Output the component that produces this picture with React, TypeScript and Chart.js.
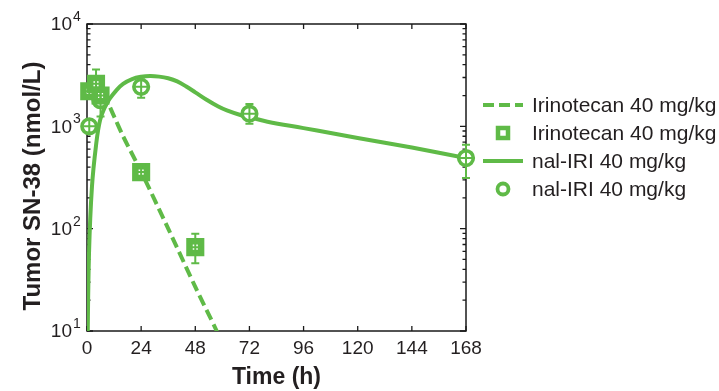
import React, { useEffect, useRef } from 'react';
import { Chart, registerables } from 'chart.js';

Chart.register(...registerables);

// ---------- data ----------
const xTicks = [0, 24, 48, 72, 96, 120, 144, 168];
const yTicks = [10, 100, 1000, 10000];
const yTickExp = ['1', '2', '3', '4'];
const yMinorMult = [2, 3, 4, 5, 6, 7, 8, 9];

// Irinotecan 40 mg/kg model curve (dashed)
const irinoCurveT = [0, 4, 8, 12, 16, 24, 36, 48, 57.5, 62];
const irinoCurveV = [2300, 2250, 1900, 1250, 800, 360, 100, 27, 10, 6];

// nal-IRI 40 mg/kg model curve (solid)
const nalCurveT = [0.2, 0.9, 2.2, 4, 5.8, 8, 10, 13, 16, 20, 24, 28, 32, 36, 40, 44, 48, 53, 58, 62, 68, 72, 80, 96, 108, 120, 144, 168];
const nalCurveV = [6, 58, 257, 650, 1150, 1550, 1850, 2250, 2600, 2900, 3050, 3100, 3060, 2950, 2750, 2450, 2150, 1820, 1570, 1430, 1290, 1230, 1110, 960, 860, 770, 620, 490];

// Irinotecan observed (squares)
const sqT = [1, 4, 6, 24, 48];
const sqV = [2200, 2600, 2000, 357, 66];
const sqLo = [2200, 2000, 2000, 300, 46];
const sqHi = [2200, 3600, 2000, 420, 89];

// nal-IRI observed (circles)
const ciT = [1, 6, 24, 72, 168];
const ciV = [1000, 1800, 2430, 1330, 490];
const ciLo = [870, 1250, 1900, 1060, 313];
const ciHi = [1150, 2200, 3000, 1650, 660];

const legendLabels = ['Irinotecan 40 mg/kg', 'Irinotecan 40 mg/kg', 'nal-IRI 40 mg/kg', 'nal-IRI 40 mg/kg'];

// ---------- style ----------
const GREEN = '#5fba47';
const TEXT = '#231f20';
const FONT = '"Liberation Sans", Arial, Helvetica, sans-serif';
const DASH = [11, 5];

const toXY = (t: number[], v: number[]) => t.map((tt, i) => ({ x: tt, y: v[i] }));

function drawSquare(ctx: CanvasRenderingContext2D, cx: number, cy: number, side: number, bw: number) {
  ctx.save();
  ctx.fillStyle = '#ffffff';
  ctx.strokeStyle = GREEN;
  ctx.lineWidth = bw;
  ctx.setLineDash([]);
  ctx.beginPath();
  ctx.rect(cx - side / 2, cy - side / 2, side, side);
  ctx.fill();
  ctx.stroke();
  ctx.restore();
}

function drawCircle(ctx: CanvasRenderingContext2D, cx: number, cy: number, r: number, bw: number) {
  ctx.save();
  ctx.fillStyle = '#ffffff';
  ctx.strokeStyle = GREEN;
  ctx.lineWidth = bw;
  ctx.setLineDash([]);
  ctx.beginPath();
  ctx.arc(cx, cy, r, 0, Math.PI * 2);
  ctx.fill();
  ctx.stroke();
  ctx.restore();
}

const decorPlugin = {
  id: 'decor',
  beforeDatasetsDraw(chart: any) {
    const { ctx, chartArea: a, scales } = chart;
    const x = scales.x;
    const y = scales.y;
    ctx.save();
    ctx.strokeStyle = '#1a1a1a';
    ctx.lineWidth = 1.5;
    ctx.strokeRect(a.left, a.top, a.right - a.left, a.bottom - a.top);
    ctx.lineWidth = 1.3;
    ctx.beginPath();
    for (const t of xTicks) {
      const px = x.getPixelForValue(t);
      ctx.moveTo(px, a.bottom);
      ctx.lineTo(px, a.bottom - 5);
      ctx.moveTo(px, a.top);
      ctx.lineTo(px, a.top + 5);
    }
    for (const v of yTicks) {
      const py = y.getPixelForValue(v);
      ctx.moveTo(a.left, py);
      ctx.lineTo(a.left + 6, py);
      ctx.moveTo(a.right, py);
      ctx.lineTo(a.right - 6, py);
    }
    for (let k = 0; k < yTicks.length - 1; k++) {
      for (const m of yMinorMult) {
        const py = y.getPixelForValue(yTicks[k] * m);
        ctx.moveTo(a.left, py);
        ctx.lineTo(a.left + 3.5, py);
        ctx.moveTo(a.right, py);
        ctx.lineTo(a.right - 3.5, py);
      }
    }
    ctx.stroke();
    ctx.restore();
  },
  afterDatasetsDraw(chart: any) {
    const { ctx, scales } = chart;
    const x = scales.x;
    const y = scales.y;
    ctx.save();
    ctx.strokeStyle = GREEN;
    ctx.lineWidth = 2;
    ctx.setLineDash([]);
    const bars = (T: number[], V: number[], L: number[], H: number[], half: number) => {
      T.forEach((t, i) => {
        const px = x.getPixelForValue(t);
        const py = y.getPixelForValue(V[i]);
        const pl = y.getPixelForValue(L[i]);
        const ph = y.getPixelForValue(H[i]);
        ctx.beginPath();
        ctx.moveTo(px, pl);
        ctx.lineTo(px, ph);
        if (H[i] !== V[i]) {
          ctx.moveTo(px - 4, ph);
          ctx.lineTo(px + 4, ph);
        }
        if (L[i] !== V[i]) {
          ctx.moveTo(px - 4, pl);
          ctx.lineTo(px + 4, pl);
        }
        ctx.moveTo(px, py - half);
        ctx.lineTo(px, py + half);
        ctx.moveTo(px - half, py);
        ctx.lineTo(px + half, py);
        ctx.stroke();
      });
    };
    bars(sqT, sqV, sqLo, sqHi, 6);
    bars(ciT, ciV, ciLo, ciHi, 6);
    ctx.restore();
  },
  afterDraw(chart: any) {
    const { ctx, chartArea: a, scales } = chart;
    const x = scales.x;
    const y = scales.y;
    ctx.save();
    ctx.fillStyle = TEXT;
    // x tick labels
    ctx.font = `19px ${FONT}`;
    ctx.textAlign = 'center';
    ctx.textBaseline = 'middle';
    for (const t of xTicks) {
      ctx.fillText(String(t), x.getPixelForValue(t), a.bottom + 18);
    }
    // y tick labels with superscripts
    yTicks.forEach((v, i) => {
      const py = y.getPixelForValue(v);
      ctx.font = `19px ${FONT}`;
      ctx.textAlign = 'right';
      ctx.textBaseline = 'middle';
      ctx.fillText('10', a.left - 15, py + 1);
      ctx.font = `14px ${FONT}`;
      ctx.textAlign = 'left';
      ctx.textBaseline = 'alphabetic';
      ctx.fillText(yTickExp[i], a.left - 14, py - 3);
    });
    // axis titles
    ctx.font = `bold 23px ${FONT}`;
    ctx.textAlign = 'center';
    ctx.textBaseline = 'middle';
    ctx.fillText('Time (h)', (a.left + a.right) / 2, 378);
    ctx.save();
    ctx.translate(33, 186);
    ctx.rotate(-Math.PI / 2);
    ctx.font = `bold 24px ${FONT}`;
    ctx.fillText('Tumor SN-38 (nmol/L)', 0, 0);
    ctx.restore();

    // legend
    const rows = [105, 133, 161, 189];
    const lx0 = a.right + 17;
    const lx1 = a.right + 57;
    const mx = (lx0 + lx1) / 2;
    ctx.strokeStyle = GREEN;
    ctx.lineWidth = 4;
    ctx.setLineDash(DASH);
    ctx.beginPath();
    ctx.moveTo(lx0, rows[0]);
    ctx.lineTo(lx1, rows[0]);
    ctx.stroke();
    ctx.setLineDash([]);
    drawSquare(ctx, mx, rows[1], 10, 4.5);
    ctx.beginPath();
    ctx.moveTo(lx0, rows[2]);
    ctx.lineTo(lx1, rows[2]);
    ctx.stroke();
    drawCircle(ctx, mx, rows[3], 5.5, 3.8);
    ctx.fillStyle = TEXT;
    ctx.font = `21px ${FONT}`;
    ctx.textAlign = 'left';
    ctx.textBaseline = 'middle';
    legendLabels.forEach((lab, i) => ctx.fillText(lab, lx1 + 9, rows[i] + 1));
    ctx.restore();
  },
};

export default function App() {
  const ref = useRef<HTMLCanvasElement | null>(null);
  useEffect(() => {
    if (!ref.current) return;
    const chart = new Chart(ref.current, {
      type: 'line',
      data: {
        datasets: [
          {
            label: legendLabels[1],
            data: toXY(sqT, sqV),
            showLine: false,
            pointStyle: 'rect',
            pointRadius: 8.2,
            pointBorderWidth: 6.5,
            pointBackgroundColor: '#ffffff',
            pointBorderColor: GREEN,
            borderColor: GREEN,
            clip: false,
            order: 0,
          } as any,
          {
            label: legendLabels[3],
            data: toXY(ciT, ciV),
            showLine: false,
            pointStyle: 'circle',
            pointRadius: 7.3,
            pointBorderWidth: 3.6,
            pointBackgroundColor: '#ffffff',
            pointBorderColor: GREEN,
            borderColor: GREEN,
            clip: false,
            order: 0,
          } as any,
          {
            label: legendLabels[0],
            data: toXY(irinoCurveT, irinoCurveV),
            borderColor: GREEN,
            borderWidth: 4,
            borderDash: DASH,
            pointRadius: 0,
            tension: 0.3,
            order: 1,
          },
          {
            label: legendLabels[2],
            data: toXY(nalCurveT, nalCurveV),
            borderColor: GREEN,
            borderWidth: 4,
            pointRadius: 0,
            tension: 0.4,
            order: 1,
          } as any,
        ],
      },
      options: {
        responsive: false,
        animation: false,
        devicePixelRatio: 1,
        layout: { padding: { top: 24, right: 253, left: 0, bottom: 0 } },
        plugins: { legend: { display: false }, tooltip: { enabled: false } },
        scales: {
          x: {
            type: 'linear',
            min: 0,
            max: 168,
            ticks: { display: false, stepSize: 24 },
            grid: { display: false, drawTicks: false },
            border: { display: false },
            afterFit: (s: any) => {
              s.height = 60;
            },
          },
          y: {
            type: 'logarithmic',
            min: 10,
            max: 10000,
            ticks: { display: false },
            grid: { display: false, drawTicks: false },
            border: { display: false },
            afterFit: (s: any) => {
              s.width = 87;
            },
          },
        },
      } as any,
      plugins: [decorPlugin],
    });
    return () => chart.destroy();
  }, []);
  return (
    <div style={{ position: 'fixed', left: 0, top: 0, width: 719, height: 391, background: '#fff' }}>
      <canvas ref={ref} width={719} height={391} style={{ width: 719, height: 391, display: 'block' }} />
    </div>
  );
}
